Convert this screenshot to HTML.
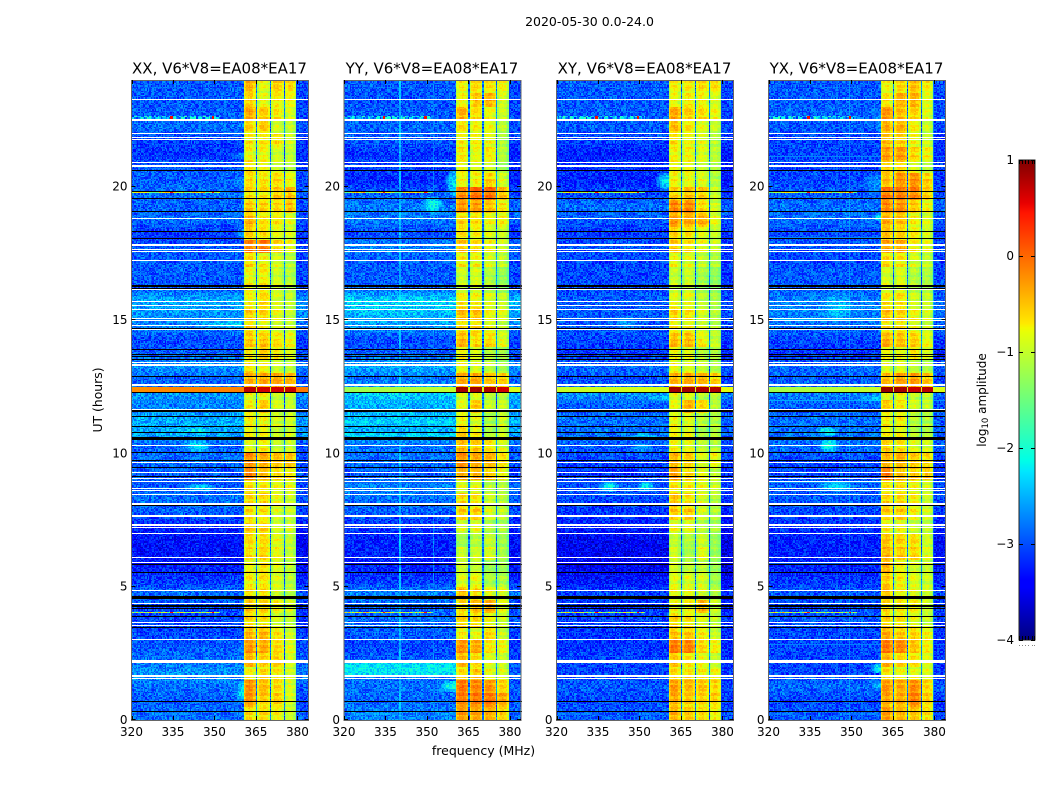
<!DOCTYPE html>
<html>
<head>
<meta charset="utf-8">
<title>2020-05-30 spectrogram</title>
<style>
html,body{margin:0;padding:0;background:#fff;}
#figure{position:relative;width:1050px;height:800px;overflow:hidden;background:#fff;}
canvas{position:absolute;display:block;image-rendering:pixelated;}
svg{position:absolute;left:0;top:0;}
text{font-family:"DejaVu Sans","Liberation Sans",sans-serif;fill:#000;}
</style>
</head>
<body>
<div id="figure">
<svg id="overlay" width="1050" height="800" viewBox="0 0 1050 800"></svg>
</div>
<script>
const panelTitles = ["XX, V6*V8=EA08*EA17","YY, V6*V8=EA08*EA17","XY, V6*V8=EA08*EA17","YX, V6*V8=EA08*EA17"];
const panelKeys = ["xx","yy","xy","yx"];
const xTickLabels = [320,335,350,365,380];
const yTickLabels = [0,5,10,15,20];
const colorbarTickLabels = [-4,-3,-2,-1,0,1];
const colorbarEdgeFractions = [0.05,0.25,0.45,0.65,0.85,1];

// Per half-hour block, listed from UT 24 down to UT 0: background log10 amplitude
const xxBackground = [-2.95,-2.95,-2.95,-2.85,-3.05,-3.15,-2.95,-2.95,-2.85,-2.95,-2.85,-3.15,-2.95,-2.95,-2.95,-3.0,-2.55,-2.65,-2.75,-3.05,-2.95,-2.65,-2.95,-2.65,-2.75,-2.55,-2.55,-2.95,-2.85,-2.95,-2.95,-2.85,-2.95,-3.25,-3.35,-3.35,-3.25,-3.15,-2.85,-3.05,-3.05,-3.05,-2.95,-2.85,-2.65,-2.85,-2.95,-2.85];
const yyBackground = [-2.95,-3.0,-2.95,-2.9,-2.95,-3.15,-3.05,-3.25,-2.95,-2.8,-2.8,-3.05,-2.75,-2.95,-2.95,-2.95,-2.35,-2.45,-2.65,-3.05,-2.95,-2.55,-2.85,-2.35,-2.55,-2.45,-2.55,-2.85,-2.85,-2.95,-2.75,-2.85,-2.95,-3.15,-3.25,-3.25,-3.25,-3.15,-2.75,-2.95,-2.85,-2.95,-3.05,-2.95,-2.85,-2.85,-2.9,-2.75];
const xyBackground = [-2.95,-2.95,-2.95,-2.95,-3.05,-3.25,-3.15,-3.25,-3.05,-2.85,-2.95,-3.15,-2.95,-3.05,-3.05,-3.05,-2.95,-2.95,-2.95,-3.05,-3.15,-2.85,-3.05,-2.65,-2.95,-2.85,-2.85,-2.95,-3.05,-3.15,-2.95,-3.05,-3.15,-3.25,-3.45,-3.45,-3.45,-3.35,-3.05,-3.15,-3.05,-3.15,-3.15,-3.05,-3.05,-2.95,-3.05,-2.95];
const yxBackground = [-2.95,-2.95,-2.9,-2.95,-3.05,-3.05,-3.05,-3.05,-2.95,-2.85,-2.85,-3.05,-2.95,-3.05,-2.95,-2.95,-2.75,-2.75,-2.85,-3.05,-3.15,-2.85,-2.95,-2.75,-2.95,-2.85,-2.85,-2.85,-3.05,-3.05,-2.95,-2.95,-3.05,-3.15,-3.25,-3.25,-3.25,-3.15,-2.95,-3.05,-2.95,-3.05,-3.05,-3.05,-3.05,-2.85,-3.05,-2.95];

// Per half-hour block, UT 24 down to UT 0: log10 amplitude of the four sub-bands
const xxBandLevels = [[-0.5,-0.9,-0.55,-0.6],[-0.6,-0.85,-0.7,-0.7],[-0.4,-0.6,-0.7,-0.85],[-0.65,-0.6,-0.9,-0.95],[-0.75,-0.75,-0.7,-0.9],[-0.8,-0.8,-0.9,-0.95],[-0.7,-0.8,-0.9,-1.0],[-0.65,-0.7,-0.6,-0.7],[-0.65,-0.7,-0.5,-0.4],[-0.6,-0.65,-0.6,-0.45],[-0.45,-0.7,-0.7,-0.8],[-0.6,-0.7,-0.8,-0.85],[-0.2,-0.15,-0.6,-0.8],[-0.65,-0.8,-0.9,-1.0],[-0.85,-0.8,-0.95,-1.05],[-0.8,-0.75,-0.9,-1.0],[-0.8,-0.65,-0.9,-0.95],[-0.6,-0.65,-0.8,-0.95],[-0.7,-0.85,-0.9,-0.95],[-0.55,-0.55,-0.65,-0.7],[-0.75,-0.6,-0.7,-0.8],[-0.7,-0.8,-0.9,-0.95],[-0.4,-0.35,-0.3,-0.35],[-0.85,-0.8,-0.95,-0.9],[-0.8,-0.6,-0.9,-0.95],[-0.75,-0.8,-0.9,-0.85],[-0.8,-0.85,-0.95,-0.9],[-0.9,-0.8,-1.0,-0.95],[-0.25,-0.4,-0.5,-0.45],[-0.2,-0.5,-0.6,-0.6],[-0.7,-0.75,-0.8,-0.8],[-0.65,-0.65,-0.8,-0.9],[-0.7,-0.75,-0.9,-0.9],[-0.6,-0.65,-0.9,-0.9],[-0.65,-0.65,-0.8,-0.95],[-0.7,-0.65,-0.8,-0.95],[-0.8,-0.7,-0.8,-0.95],[-0.75,-0.7,-0.85,-1.0],[-0.7,-0.7,-0.9,-1.0],[-0.6,-0.65,-0.75,-0.9],[-0.65,-0.7,-0.9,-0.95],[-0.5,-0.5,-0.7,-0.9],[-0.3,-0.4,-0.6,-0.8],[-0.45,-0.6,-0.55,-0.85],[-0.8,-0.7,-0.7,-0.9],[-0.25,-0.5,-0.6,-0.85],[-0.3,-0.6,-0.55,-0.85],[-0.7,-0.7,-0.75,-0.9]];
const yyBandLevels = [[-0.8,-0.7,-0.7,-0.7],[-0.8,-0.55,-0.4,-0.85],[-0.45,-0.7,-0.8,-0.9],[-0.7,-0.8,-0.8,-1.0],[-0.8,-0.8,-0.85,-1.1],[-0.7,-0.85,-0.7,-1.0],[-0.8,-0.9,-0.9,-1.1],[-0.8,-0.75,-0.55,-0.85],[-0.2,-0.05,0.0,-0.4],[-0.3,-0.35,-0.5,-0.65],[-0.65,-0.7,-0.8,-0.7],[-0.7,-0.8,-0.9,-0.9],[-0.55,-0.7,-0.8,-0.85],[-0.75,-0.8,-0.9,-0.95],[-1.0,-0.95,-1.1,-1.2],[-1.0,-0.95,-1.1,-1.2],[-0.75,-0.8,-0.9,-0.95],[-0.5,-0.55,-0.8,-0.8],[-0.7,-0.7,-0.85,-0.95],[-0.45,-0.65,-0.6,-0.8],[-0.8,-0.9,-1.05,-1.1],[-0.8,-0.9,-1.0,-1.1],[-0.35,-0.35,-0.5,-0.5],[-0.9,-0.9,-1.05,-1.0],[-0.9,-0.6,-1.0,-0.9],[-0.8,-0.9,-1.1,-0.9],[-0.6,-0.8,-1.1,-0.9],[-0.5,-0.6,-0.7,-0.85],[-0.25,-0.4,-0.45,-0.6],[-0.4,-0.45,-0.55,-0.7],[-0.9,-0.9,-1.1,-1.0],[-0.65,-0.75,-0.95,-1.0],[-0.6,-0.6,-0.9,-0.95],[-0.95,-0.9,-1.1,-1.1],[-1.2,-1.1,-1.0,-1.15],[-1.0,-1.0,-0.9,-1.1],[-0.95,-1.0,-1.2,-1.1],[-0.9,-0.85,-1.1,-1.05],[-0.5,-0.65,-0.8,-0.8],[-0.7,-0.55,-0.4,-0.8],[-0.6,-0.65,-0.8,-0.9],[-0.8,-0.9,-0.65,-0.95],[-0.25,-0.4,-0.7,-0.7],[-0.45,-0.65,-0.85,-0.9],[-0.7,-0.6,-0.85,-0.85],[-0.1,-0.2,-0.25,-0.5],[-0.15,-0.15,-0.1,-0.3],[-0.35,-0.4,-0.4,-0.55]];
const xyBandLevels = [[-0.78,-0.78,-0.63,-0.63],[-0.83,-0.73,-0.73,-0.83],[-0.38,-0.63,-0.63,-0.73],[-0.53,-0.73,-0.83,-0.93],[-0.73,-0.83,-0.88,-1.03],[-0.78,-0.78,-0.83,-0.98],[-0.78,-0.83,-0.93,-1.03],[-0.78,-0.83,-0.83,-1.03],[-0.58,-0.53,-0.53,-0.88],[-0.23,-0.23,-0.63,-0.88],[-0.33,-0.38,-0.38,-0.78],[-0.63,-0.73,-0.83,-0.93],[-0.58,-0.73,-0.83,-0.93],[-0.83,-0.88,-0.98,-1.03],[-1.03,-1.03,-1.13,-1.23],[-1.03,-0.98,-1.18,-1.23],[-0.88,-0.88,-1.03,-1.08],[-0.63,-0.73,-0.88,-1.03],[-0.78,-0.83,-0.93,-1.03],[-0.48,-0.48,-0.73,-0.93],[-0.78,-0.88,-1.03,-1.03],[-0.83,-0.88,-0.93,-1.03],[-0.43,-0.38,-0.38,-0.48],[-0.88,-0.88,-1.03,-0.98],[-0.88,-0.48,-0.63,-1.03],[-0.83,-0.88,-1.03,-1.03],[-0.78,-0.88,-1.13,-1.03],[-0.83,-0.88,-1.03,-1.03],[-0.48,-0.63,-0.88,-0.73],[-0.33,-0.63,-0.78,-0.93],[-0.73,-0.78,-0.83,-0.93],[-0.53,-0.73,-0.88,-1.03],[-0.58,-0.58,-0.88,-1.03],[-0.88,-0.88,-1.03,-1.08],[-1.03,-1.13,-0.93,-1.18],[-0.98,-1.18,-0.83,-1.18],[-0.93,-1.03,-0.98,-1.13],[-0.88,-0.93,-0.88,-1.13],[-0.83,-0.83,-0.88,-1.03],[-0.88,-0.83,-0.43,-0.93],[-0.63,-0.73,-0.83,-0.93],[-0.58,-0.58,-0.73,-0.93],[-0.13,-0.18,-0.58,-0.68],[-0.53,-0.73,-0.78,-0.93],[-0.68,-0.73,-0.73,-0.73],[-0.33,-0.48,-0.48,-0.53],[-0.43,-0.58,-0.58,-0.53],[-0.48,-0.58,-0.63,-0.68]];
const yxBandLevels = [[-0.83,-0.68,-0.48,-0.68],[-0.73,-0.43,-0.38,-0.78],[-0.28,-0.53,-0.58,-0.83],[-0.43,-0.48,-0.73,-0.93],[-0.53,-0.63,-0.78,-0.93],[-0.33,-0.33,-0.58,-0.68],[-0.58,-0.63,-0.83,-0.98],[-0.53,-0.28,-0.18,-0.48],[-0.08,-0.13,-0.13,-0.48],[-0.23,-0.28,-0.53,-0.73],[-0.43,-0.53,-0.73,-0.83],[-0.53,-0.63,-0.73,-0.88],[-0.38,-0.43,-0.73,-0.78],[-0.68,-0.73,-0.88,-0.93],[-0.93,-0.93,-1.08,-1.08],[-0.93,-0.88,-1.08,-1.08],[-0.73,-0.73,-0.93,-0.93],[-0.53,-0.63,-0.78,-0.88],[-0.73,-0.73,-0.83,-0.93],[-0.43,-0.53,-0.53,-0.73],[-0.78,-0.83,-0.68,-0.83],[-0.88,-0.88,-0.98,-1.03],[-0.48,-0.33,-0.28,-0.43],[-0.88,-0.83,-0.98,-0.93],[-0.63,-0.78,-0.93,-0.98],[-0.78,-0.78,-1.03,-1.03],[-0.78,-0.83,-1.08,-1.03],[-0.63,-0.73,-0.88,-0.88],[-0.48,-0.48,-0.53,-0.58],[-0.13,-0.48,-0.48,-0.48],[-0.73,-0.73,-0.78,-0.88],[-0.63,-0.68,-0.73,-0.88],[-0.58,-0.58,-0.73,-0.88],[-0.78,-0.83,-0.98,-0.98],[-0.53,-0.63,-0.63,-0.88],[-0.48,-0.58,-0.58,-0.83],[-0.43,-0.78,-0.88,-0.88],[-0.58,-0.78,-0.83,-0.88],[-0.53,-0.78,-0.83,-0.88],[-0.68,-0.78,-0.73,-0.93],[-0.63,-0.73,-0.83,-0.93],[-0.43,-0.58,-0.58,-0.73],[-0.13,-0.23,-0.48,-0.68],[-0.43,-0.63,-0.63,-0.78],[-0.73,-0.83,-0.83,-0.83],[-0.28,-0.38,-0.18,-0.53],[-0.38,-0.43,-0.13,-0.53],[-0.33,-0.48,-0.48,-0.63]];

// Sub-band frequency ranges (MHz)
const subbandStartMhz = [360.4,365.4,370.4,375.4];
const subbandEndMhz = [364.8,369.9,374.9,379.7];
const subbandShape = [-0.28,-0.08,0.02,0.05,0.02,-0.05,-0.22];
const subbandTilt = [0.05,0.05,-0.05,-0.18];
const gapLevel = -2.85;

// Strong interference interval at UT 12.3 (hours, levels)
const hotStartHour = 12.27;
const hotEndHour = 12.5;
const xxHotBand = [0.75,0.65,0.65,0.7];
const yyHotBand = [0.85,0.85,0.8,0.65];
const xyHotBand = [0.85,0.85,0.8,0.8];
const yxHotBand = [0.9,0.85,0.7,0.75];
const xxHotBackground = [-0.2,-0.1];
const yyHotBackground = [-1.25,-0.85];
const xyHotBackground = [-1.0,-0.8];
const yxHotBackground = [-1.2,-0.85];

// Narrow-band time traces across the low part of the band
const traceHours = [22.6,19.78,4.03];
const traceLevels = [-2.5,-1.0,-1.1];
const traceSpikeMhz = [334,349];

// Bright background regions: [startHour, endHour, startMhz, endMhz, level]
const xxPatches = [[0.65,1.5,356.5,360.4,-2.3],[2.2,3.0,356,360.4,-2.7],[19.9,20.4,352,360.4,-2.65],[14.7,15.0,338,360,-2.3],[10.7,10.95,337,350,-2.1],[10.0,10.55,337,350,-2.3],[8.55,8.85,337,352,-2.35],[21.0,21.3,353,360.4,-2.7],[18.0,18.5,356,360.4,-2.6]];
const yyPatches = [[19.6,20.6,356.5,360.4,-2.25],[1.05,1.45,354,360.4,-2.0],[1.6,2.2,320,360.4,-2.2],[19.0,19.6,348,356,-2.1],[11.0,11.35,320,360.4,-2.35],[10.6,10.75,320,360.4,-2.3],[12.0,12.25,320,360.4,-2.45]];
const xyPatches = [[19.9,20.5,356,360.4,-2.2],[10.55,10.75,345,358,-2.3],[8.55,8.95,335,343,-2.2],[8.55,8.95,349,356,-2.2],[10.0,10.45,345,356,-2.55],[14.5,15.3,338,352,-2.65],[11.9,12.27,346,360.4,-2.45]];
const yxPatches = [[21.9,23.0,357.2,360.4,-2.6],[19.6,20.6,350,360.4,-2.65],[18.7,19.0,357,360.4,-2.2],[14.8,16.1,336,354,-2.4],[10.65,11.0,336,346,-2.15],[10.05,10.55,338,346,-2.1],[8.55,8.95,336,353,-2.3],[1.75,2.1,357,360.4,-2.1],[1.15,1.45,356,360.4,-2.4],[11.9,12.27,346,360.4,-2.45]];

// Persistent interference channels (MHz) per panel and their levels
const xxRfiMhz = [];
const yyRfiMhz = [340.25,352.25];
const xyRfiMhz = [];
const yxRfiMhz = [];
const rfiLevels = [-2.45,-2.75];

// Fully flagged time samples (UT hours), drawn white
const whiteFlagHours = [23.28,22.53,22.49,21.98,21.85,21.78,20.9,20.81,20.78,20.74,18.81,17.85,17.78,17.63,17.56,17.22,16.16,15.69,15.56,15.38,15.06,15.0,14.78,14.63,13.39,13.34,13.29,12.59,12.53,11.66,10.29,9.66,9.27,9.04,8.93,8.7,8.6,8.45,8.12,8.08,7.67,7.62,7.33,7.28,7.22,7.0,6.1,5.89,4.86,4.38,3.65,3.53,3.03,2.22,2.19,2.14,1.67,1.62,1.54];
// Zero-amplitude time samples (UT hours), drawn black
const blackFlagHours = [22.47,20.6,19.81,19.56,19.06,18.31,18.06,16.3,16.25,16.2,14.69,13.9,13.69,13.62,13.52,12.87,12.27,11.6,11.56,11.37,11.0,10.79,10.61,10.56,10.52,10.04,9.75,9.48,9.12,8.03,5.85,5.54,4.65,4.61,4.57,4.29,4.25,4.2,3.87,3.48,0.69,0.31];

// Fine-grain texture amplitudes
const speckle = [0.12,-0.21,0.05,0.33,-0.08,-0.3,0.18,0.02,-0.15,0.27,-0.25,0.09,-0.04,0.22,-0.33,0.14,0.0,-0.19,0.3,-0.11,0.07,-0.27,0.2,0.04,-0.06,0.35,-0.17,0.11,-0.23,0.16,-0.02,0.25,-0.31,0.08,-0.13,0.19,0.03,-0.28,0.29,-0.09,0.13,-0.2,0.06,0.24,-0.34,0.1,-0.05,0.17,-0.24,0.31,-0.12,0.01,0.21,-0.16,0.15,-0.29,0.26,-0.07,0.23,-0.18,0.06];
const rowRipple = [0.04,-0.09,0.12,-0.03,0.07,-0.13,0.02,0.1,-0.06,0.15,-0.1,0.0,0.08,-0.14,0.05,0.11,-0.07,-0.02,0.13,-0.11,0.03,0.09,-0.05];

// matplotlib "jet" control points
const jetPosition = [0,0.11,0.125,0.34,0.35,0.375,0.64,0.65,0.66,0.89,0.91,1];
const jetRed = [0,0,0,0,0,0,0.9,0.95,1,1,0.91,0.5];
const jetGreen = [0,0,0,0.86,0.9,1,1,0.98,0.91,0.08,0,0];
const jetBlue = [0.5,1,1,1,1,0.9,0.03,0,0,0,0,0];

const allBackground = {xx:xxBackground,yy:yyBackground,xy:xyBackground,yx:yxBackground};
const allBand = {xx:xxBandLevels,yy:yyBandLevels,xy:xyBandLevels,yx:yxBandLevels};
const allHotBand = {xx:xxHotBand,yy:yyHotBand,xy:xyHotBand,yx:yxHotBand};
const allHotBackground = {xx:xxHotBackground,yy:yyHotBackground,xy:xyHotBackground,yx:yxHotBackground};
const allPatches = {xx:xxPatches,yy:yyPatches,xy:xyPatches,yx:yxPatches};
const allRfi = {xx:xxRfiMhz,yy:yyRfiMhz,xy:xyRfiMhz,yx:yxRfiMhz};

// Layout
const panelLeft = [131.5,344,556.5,768.5];
const panelWidth = 177;
const plotTop = 80;
const plotBottom = 720;
const mhzMin = 320, mhzMax = 384, hourMax = 24;
const channelMhz = 0.5, rowHours = 0.05;
const vMin = -4, vMax = 1;
const barLeft = 1019, barRight = 1035, barTop = 160, barBottom = 640;

function xScale(p, mhz){ return panelLeft[p] + (mhz - mhzMin) / (mhzMax - mhzMin) * panelWidth; }
function yScale(hour){ return plotBottom - hour / hourMax * (plotBottom - plotTop); }
function barScale(v){ return barBottom - (v - vMin) / (vMax - vMin) * (barBottom - barTop); }

function interp(ps, vs, t){
  for (let i = 1; i < ps.length; i++) {
    if (t <= ps[i]) { return vs[i-1] + (vs[i] - vs[i-1]) * (t - ps[i-1]) / (ps[i] - ps[i-1]); }
  }
  return vs[vs.length - 1];
}
function jetColor(v){
  const t = Math.max(0, Math.min(1, (v - vMin) / (vMax - vMin)));
  const r = Math.round(255 * interp(jetPosition, jetRed, t));
  const g = Math.round(255 * interp(jetPosition, jetGreen, t));
  const b = Math.round(255 * interp(jetPosition, jetBlue, t));
  return "rgb(" + r + "," + g + "," + b + ")";
}

function backgroundAt(series, hour){
  // blocks run from UT 24 at index 0; blend between neighbouring block centres
  const pos = (hourMax - hour) / 0.5 - 0.5;
  const i0 = Math.max(0, Math.min(series.length - 1, Math.floor(pos)));
  const i1 = Math.min(series.length - 1, i0 + 1);
  const f = Math.max(0, Math.min(1, pos - i0));
  return series[i0] + (series[i1] - series[i0]) * f;
}

function cellValue(key, pIndex, r, c){
  const hour = (r + 0.5) * rowHours;
  const mhz = mhzMin + (c + 0.5) * channelMhz;
  const block = Math.min(47, 47 - Math.floor(hour / 0.5));
  const tex = speckle[(r * c + r * 3 + c * 5 + pIndex * 11) % speckle.length];
  const ripple = rowRipple[(r >> 1) % rowRipple.length];
  let sub = -1;
  for (let i = 0; i < subbandStartMhz.length; i++) {
    if (mhz >= subbandStartMhz[i] && mhz < subbandEndMhz[i]) { sub = i; }
  }
  const hot = hour >= hotStartHour && hour < hotEndHour;
  if (sub >= 0) {
    if (hot) { return allHotBand[key][sub] + tex * 0.12; }
    const f = (mhz - subbandStartMhz[sub]) / (subbandEndMhz[sub] - subbandStartMhz[sub]);
    const shape = subbandShape[Math.min(subbandShape.length - 1, Math.floor(f * subbandShape.length))];
    return allBand[key][block][sub] + shape + subbandTilt[sub] * f + tex * 0.4 + ripple * 0.9;
  }
  if (mhz > subbandStartMhz[0] && mhz < subbandEndMhz[3]) {
    if (hot) { return -0.9; }
    return gapLevel + tex * 1.2;
  }
  if (hot) {
    const range = allHotBackground[key];
    const lean = (mhz - mhzMin) / (mhzMax - mhzMin);
    return range[0] + (range[1] - range[0]) * lean + tex * 0.08;
  }
  let v = backgroundAt(allBackground[key], hour) + tex * 1.05 + ripple * 0.1;
  if (mhz > subbandEndMhz[3]) { v += -0.1; }
  const patches = allPatches[key];
  for (let i = 0; i < patches.length; i++) {
    const q = patches[i];
    if (hour >= q[0] && hour < q[1] && mhz >= q[2] && mhz < q[3]) {
      const dy = Math.abs(hour - (q[0] + q[1]) / 2) / ((q[1] - q[0]) / 2);
      const narrow = q[3] - q[2] < 30;
      const dx = narrow ? Math.max(0, (q[3] >= 360 ? (q[3] - mhz) / (q[3] - q[2]) : Math.abs(mhz - (q[2] + q[3]) / 2) / ((q[3] - q[2]) / 2))) : 0;
      const fall = narrow ? 0.8 * (dx * dx + dy * dy * 0.6) : 0.15 * dy;
      v = Math.max(v, q[4] - fall + tex * 0.9);
    }
  }
  const rfi = allRfi[key];
  for (let i = 0; i < rfi.length; i++) {
    if (Math.abs(mhz - rfi[i]) < 0.2) { v = Math.max(v, rfiLevels[i] + tex * 0.6); }
  }
  for (let i = 0; i < traceHours.length; i++) {
    if (Math.abs(hour - traceHours[i]) < rowHours * 0.55) {
      if (mhz < 352) { v = Math.max(v, traceLevels[i] + tex * 2.2); }
      if (traceSpikeMhz.indexOf(Math.floor(mhz)) >= 0) { v = 0.5; }
    }
  }
  return v;
}

const fig = document.getElementById("figure");
const overlay = document.getElementById("overlay");
const NS = "http://www.w3.org/2000/svg";

function addLine(x1, y1, x2, y2, name){
  const el = document.createElementNS(NS, "line");
  el.setAttribute("x1", x1);
  el.setAttribute("y1", y1);
  el.setAttribute("x2", x2);
  el.setAttribute("y2", y2);
  el.setAttribute("stroke", "#000");
  el.setAttribute("stroke-width", "1");
  
  
  overlay.appendChild(el);
  return el;
}
function addText(x, y, str, size, anchor, name){
  const el = document.createElementNS(NS, "text");
  el.setAttribute("x", x);
  el.setAttribute("y", y);
  el.setAttribute("font-size", size);
  el.setAttribute("text-anchor", anchor);
  el.textContent = str;
  
  
  overlay.appendChild(el);
  return el;
}

panelKeys.forEach(function(key, p){
  const cv = document.createElement("canvas");
  const cl = Math.floor(panelLeft[p]);
  const cw = panelWidth + 1;
  cv.width = cw;
  cv.height = plotBottom - plotTop;
  cv.style.left = cl + "px";
  cv.style.top = plotTop + "px";
  
  
  fig.insertBefore(cv, overlay);
  const ctx = cv.getContext("2d");
  const nRows = Math.round(hourMax / rowHours);
  const nCols = Math.round((mhzMax - mhzMin) / channelMhz);
  for (let r = 0; r < nRows; r++) {
    const y0 = Math.round(yScale((r + 1) * rowHours)) - plotTop;
    const y1 = Math.round(yScale(r * rowHours)) - plotTop;
    for (let c = 0; c < nCols; c++) {
      const x0 = Math.round(xScale(p, mhzMin + c * channelMhz)) - cl;
      const x1 = Math.round(xScale(p, mhzMin + (c + 1) * channelMhz)) - cl;
      if (x1 > x0 && y1 > y0) {
        ctx.fillStyle = jetColor(cellValue(key, p, r, c));
        ctx.fillRect(x0, y0, x1 - x0, y1 - y0);
      }
    }
  }
  ctx.fillStyle = "#000";
  blackFlagHours.forEach(function(h){
    ctx.fillRect(0, Math.floor(yScale(h)) - plotTop, cw, 1);
  });
  ctx.fillStyle = "#fff";
  whiteFlagHours.forEach(function(h){
    ctx.fillRect(0, Math.floor(yScale(h)) - plotTop, cw, 1);
  });

  // frame
  const frame = document.createElementNS(NS, "rect");
  frame.setAttribute("x", panelLeft[p]);
  frame.setAttribute("y", plotTop + 0.5);
  frame.setAttribute("width", panelWidth);
  frame.setAttribute("height", plotBottom - plotTop);
  frame.setAttribute("fill", "none");
  frame.setAttribute("stroke", "#666");
  frame.setAttribute("stroke-width", "1");
  
  
  overlay.appendChild(frame);

  // x ticks
  xTickLabels.forEach(function(t){
    const x = Math.round(xScale(p, t)) + 0.5;
    addLine(x, plotBottom, x, plotBottom - 4, 'x-tick-bottom-' + key + '-' + t);
    addLine(x, plotTop, x, plotTop + 4, 'x-tick-top-' + key + '-' + t);
    addText(xScale(p, t), plotBottom + 16, String(t), 12, "middle", 'x-tick-label-' + key + '-' + t);
  });
  // y ticks
  yTickLabels.forEach(function(t){
    const y = Math.round(yScale(t)) - 0.5;
    const xl = panelLeft[p];
    const xr = panelLeft[p] + panelWidth;
    addLine(xl, y, xl + 4, y, 'y-tick-left-' + key + '-' + t);
    addLine(xr - 4, y, xr, y, 'y-tick-right-' + key + '-' + t);
    addText(xl - 4, yScale(t) + 4, String(t), 12, "end", 'y-tick-label-' + key + '-' + t);
  });
  addText(panelLeft[p] + panelWidth / 2 - 0.5, 73.5, panelTitles[p], 15, "middle", 'panel-title-' + key);
});

// Axis and figure titles
addText(589.5, 26, "2020-05-30 0.0-24.0", 12.5, "middle", 'figure-title');
addText(483.5, 755, "frequency (MHz)", 12.5, "middle", 'x-axis-title');
const yTitle = addText(102, 400, "UT (hours)", 12.4, "middle", 'y-axis-title');
yTitle.setAttribute("transform", "rotate(-90 102 400)");

// Colorbar
const barCanvas = document.createElement("canvas");
barCanvas.width = barRight - barLeft;
barCanvas.height = barBottom - barTop;
barCanvas.style.left = barLeft + "px";
barCanvas.style.top = barTop + "px";


fig.insertBefore(barCanvas, overlay);
const barCtx = barCanvas.getContext("2d");
for (let y = 0; y < barCanvas.height; y++) {
  barCtx.fillStyle = jetColor(vMax - (y + 0.5) / barCanvas.height * (vMax - vMin));
  barCtx.fillRect(0, y, barCanvas.width, 1);
}
const barFrame = document.createElementNS(NS, "rect");
barFrame.setAttribute("x", barLeft);
barFrame.setAttribute("y", barTop);
barFrame.setAttribute("width", barRight - barLeft);
barFrame.setAttribute("height", barBottom - barTop);
barFrame.setAttribute("fill", "none");
barFrame.setAttribute("stroke", "#222");
barFrame.setAttribute("stroke-width", "1");


overlay.appendChild(barFrame);

colorbarTickLabels.forEach(function(v){
  const y = Math.round(barScale(v)) + 0.5;
  addLine(barLeft, y, barLeft + 4, y, 'colorbar-tick-left-' + v);
  addLine(barRight - 4, y, barRight, y, 'colorbar-tick-right-' + v);
  const label = v < 0 ? "\u2212" + Math.abs(v) : String(v);
  addText(barLeft - 5, barScale(v) + 4, label, 12, "end", 'colorbar-tick-label-' + v);
});
colorbarEdgeFractions.forEach(function(f, i){
  const x = Math.round(barLeft + f * (barRight - barLeft)) - 0.5;
  addLine(x, barTop, x, barTop + 4, 'colorbar-edge-tick-top-' + i);
  addLine(x, barBottom, x, barBottom - 4, 'colorbar-edge-tick-bottom-' + i);
  const dot = addLine(x, barBottom + 5, x, barBottom + 6, 'colorbar-edge-dot-' + i);
  dot.setAttribute("stroke", "#888");
});

const barTitle = addText(986, 400, "log", 12, "middle", 'colorbar-title');
barTitle.setAttribute("transform", "rotate(-90 986 400)");
const subTspan = document.createElementNS(NS, "tspan");
subTspan.setAttribute("font-size", "8.5");
subTspan.setAttribute("dy", "2");
subTspan.textContent = "10";
barTitle.appendChild(subTspan);
const restTspan = document.createElementNS(NS, "tspan");
restTspan.setAttribute("dy", "-2");
restTspan.textContent = " amplitude";
barTitle.appendChild(restTspan);
</script>
</body>
</html>
